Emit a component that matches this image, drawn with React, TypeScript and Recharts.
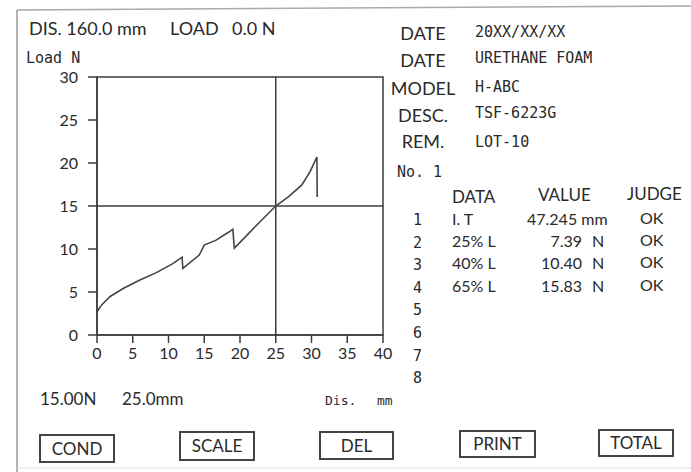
import React from 'react';
import { LineChart, Line, XAxis, YAxis, ReferenceLine, ReferenceArea } from 'recharts';

// curve (distance mm / load N)
const dis = [0, 0.65, 1.8, 3.65, 6.0, 8.3, 10.6, 11.9, 12.0, 14.3, 15.0, 16.6, 18.5, 19.0, 19.2, 20.1, 22.6, 25, 26.8, 28.65, 29.8, 30.75, 30.8];
const load = [2.7, 3.5, 4.45, 5.4, 6.4, 7.25, 8.3, 9.05, 7.75, 9.3, 10.45, 11.0, 12.0, 12.3, 10.1, 10.85, 13.0, 15, 16.1, 17.45, 19.0, 20.7, 16.05];

const xTicks = [0, 5, 10, 15, 20, 25, 30, 35, 40];
const yTicks = [0, 5, 10, 15, 20, 25, 30];

const cursorDis = 25;
const cursorLoad = 15;

const infoLabels = ['DATE', 'DATE', 'MODEL', 'DESC.', 'REM.'];
const infoValues = ['20XX/XX/XX', 'URETHANE FOAM', 'H-ABC', 'TSF-6223G', 'LOT-10'];

const rowNos = ['1', '2', '3', '4', '5', '6', '7', '8'];
const dataNames = ['I. T', '25% L', '40% L', '65% L'];
const dataValues = ['47.245', '7.39', '10.40', '15.83'];
const dataUnits = ['mm', 'N', 'N', 'N'];
const judges = ['OK', 'OK', 'OK', 'OK'];

const buttons = ['COND', 'SCALE', 'DEL', 'PRINT', 'TOTAL'];

const data = dis.map((d, i) => ({ dis: d, load: load[i] }));

const INK = '#2a2a2a';
const LINE = '#3c3c3c';
const SANS = 'Lato, "Liberation Sans", sans-serif';
const MONO = '"DejaVu Sans Mono", monospace';

// button boxes [x, y, w, h]
const btnBox = [
  [40, 435, 74, 27],
  [180, 432, 74, 28],
  [320, 432, 73, 27],
  [460, 431, 75, 26],
  [599, 430, 74, 26],
];
const infoLabelY = [40, 67, 95, 122, 148];
const infoValueY = [37, 63, 92, 118, 147];

export default function App() {
  return (
    <div style={{ position: 'absolute', left: 0, top: 0, width: 691, height: 472, background: '#fff' }}>
      <LineChart
        width={691}
        height={472}
        data={data}
        margin={{ top: 77, right: 308, bottom: 107, left: 37 }}
      >
        <XAxis
          dataKey="dis"
          type="number"
          domain={[0, 40]}
          ticks={xTicks}
          interval={0}
          height={30}
          tickSize={8}
          tickMargin={5}
          stroke={LINE}
          strokeWidth={1.5}
          tick={{ fill: INK, fontSize: 16, fontFamily: SANS }}
        />
        <YAxis
          type="number"
          domain={[0, 30]}
          ticks={yTicks}
          interval={0}
          width={60}
          tickSize={9}
          tickMargin={10}
          stroke={LINE}
          strokeWidth={1.5}
          tick={{ fill: INK, fontSize: 16, fontFamily: SANS }}
        />
        <ReferenceArea x1={0} x2={40} y1={0} y2={30} fill="none" stroke={LINE} strokeWidth={1.5} />
        <ReferenceLine x={cursorDis} stroke={LINE} strokeWidth={1.5} />
        <ReferenceLine y={cursorLoad} stroke={LINE} strokeWidth={1.5} />
        <Line
          dataKey="load"
          type="linear"
          stroke="#444"
          strokeWidth={1.6}
          dot={false}
          isAnimationActive={false}
        />
      </LineChart>

      <svg
        width={691}
        height={472}
        style={{ position: 'absolute', left: 0, top: 0, pointerEvents: 'none' }}
      >
        {/* frame of the print-out */}
        <line x1={17} y1={10} x2={691} y2={6} stroke="#aaa" strokeWidth={1.5} />
        <line x1={17} y1={10} x2={17} y2={472} stroke="#999" strokeWidth={1.5} />
        <line x1={17} y1={468} x2={691} y2={468} stroke="#ddd" strokeWidth={1} />

        <g fontFamily={SANS} fontSize={18} fill={INK}>
          <text x={29} y={35}>DIS. 160.0 mm</text>
          <text x={170} y={35}>LOAD</text>
          <text x={232} y={35}>0.0 N</text>
        </g>
        <text x={26} y={63} fontFamily={MONO} fontSize={15} fill={INK}>Load N</text>

        {infoLabels.map((t, i) => (
          <text key={'l' + i} x={423} y={infoLabelY[i]} textAnchor="middle" fontFamily={SANS} fontSize={18} fill={INK}>
            {t}
          </text>
        ))}
        {infoValues.map((t, i) => (
          <text key={'v' + i} x={475} y={infoValueY[i]} fontFamily={MONO} fontSize={15} fill={INK}>
            {t}
          </text>
        ))}
        <text x={397} y={177} fontFamily={MONO} fontSize={15} fill={INK}>No. 1</text>

        <g fontFamily={SANS} fontSize={17} fill={INK}>
          <text x={452} y={203}>DATA</text>
          <text x={538} y={201}>VALUE</text>
          <text x={627} y={200}>JUDGE</text>
        </g>

        {rowNos.map((n, i) => (
          <text key={'n' + i} x={422} y={225 + i * 22.6} textAnchor="end" fontFamily={MONO} fontSize={15} fill={INK}>
            {n}
          </text>
        ))}
        {dataNames.map((t, i) => (
          <text key={'d' + i} x={452} y={225 + i * 22.2} fontFamily={SANS} fontSize={16} fill={INK}>
            {t}
          </text>
        ))}
        {dataValues.map((t, i) =>
          dataUnits[i] === 'mm' ? (
            <text key={'x' + i} x={527} y={225 + i * 22.2} fontFamily={SANS} fontSize={16} fill={INK}>
              {t + ' ' + dataUnits[i]}
            </text>
          ) : (
            <g key={'x' + i} fontFamily={SANS} fontSize={16} fill={INK}>
              <text x={582} y={225 + i * 22.2} textAnchor="end">{t}</text>
              <text x={592} y={225 + i * 22.2}>{dataUnits[i]}</text>
            </g>
          )
        )}
        {judges.map((t, i) => (
          <text key={'j' + i} x={640} y={224 + i * 22.2} fontFamily={SANS} fontSize={16} fill={INK}>
            {t}
          </text>
        ))}

        <g fontFamily={SANS} fontSize={17} fill={INK}>
          <text x={40} y={405}>{cursorLoad.toFixed(2)}N</text>
          <text x={122} y={405}>{cursorDis.toFixed(1)}mm</text>
        </g>
        <text x={325} y={405} fontFamily={MONO} fontSize={13} fill={INK}>Dis.</text>
        <text x={377} y={405} fontFamily={MONO} fontSize={13} fill={INK}>mm</text>

        {buttons.map((b, i) => {
          const [x, y, w, h] = btnBox[i];
          return (
            <g key={b}>
              <rect x={x} y={y} width={w} height={h} fill="none" stroke="#444" strokeWidth={2} />
              <text x={x + w / 2} y={y + h / 2 + 6} textAnchor="middle" fontFamily={SANS} fontSize={17} fill={INK}>
                {b}
              </text>
            </g>
          );
        })}
      </svg>
    </div>
  );
}
